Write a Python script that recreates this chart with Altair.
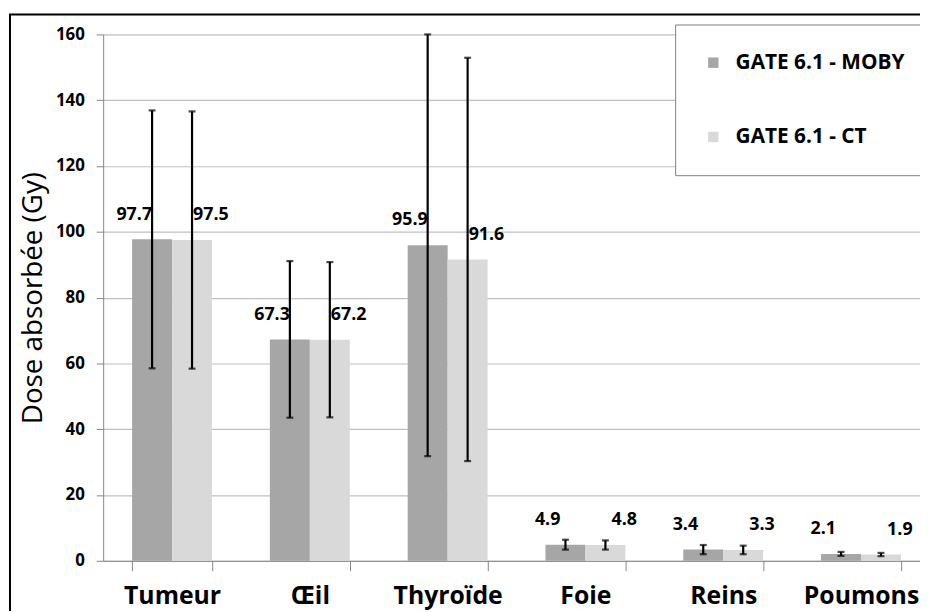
import altair as alt
import pandas as pd

categories = ["Tumeur", "Œil", "Thyroïde", "Foie", "Reins", "Poumons"]
series = ["GATE 6.1 - MOBY", "GATE 6.1 - CT"]
moby_values = [97.7, 67.3, 95.9, 4.9, 3.4, 2.1]
ct_values = [97.5, 67.2, 91.6, 4.8, 3.3, 1.9]
moby_errors = [39.2, 23.8, 64.1, 1.5, 1.4, 0.6]
ct_errors = [39.1, 23.6, 61.3, 1.4, 1.3, 0.5]
colors = ["#a6a6a6", "#d9d9d9"]

rows = []
for s, vals, errs in [(series[0], moby_values, moby_errors), (series[1], ct_values, ct_errors)]:
    for c, v, e in zip(categories, vals, errs):
        rows.append({"organe": c, "serie": s, "dose": v, "lo": v - e, "hi": v + e})
df = pd.DataFrame(rows)

FONT = "Open Sans"
W, H = 834, 531

x = alt.X("organe:N", sort=categories,
          scale=alt.Scale(paddingInner=0.42, paddingOuter=0.21),
          axis=alt.Axis(title=None, labelAngle=0, labelFontSize=25, labelFontWeight="bold",
                        labelFont=FONT, labelColor="black", labelPadding=13,
                        tickBand="extent", tickSize=10, tickColor="#868686",
                        domainColor="#868686", grid=False))
xo = alt.XOffset("serie:N", sort=series, scale=alt.Scale(domain=series))
yscale = alt.Scale(domain=[0, 160], nice=False)

base = alt.Chart(df)

bars = base.mark_bar().encode(
    x=x, xOffset=xo,
    y=alt.Y("dose:Q", scale=yscale,
            axis=alt.Axis(title="Dose absorbée (Gy)", titleFont=FONT, titleFontSize=28,
                          titleFontWeight=500, titleColor="black", titlePadding=8,
                          values=[0, 20, 40, 60, 80, 100, 120, 140, 160],
                          labelFont=FONT, labelFontSize=17, labelFontWeight="bold",
                          labelColor="black", labelPadding=12, tickSize=7,
                          tickColor="#868686", domainColor="#868686",
                          gridColor="#c0c0c0", gridWidth=1.2)),
    color=alt.Color("serie:N", sort=series,
                    scale=alt.Scale(domain=series, range=colors),
                    legend=alt.Legend(title=None, orient="none", legendX=577, legendY=-10,
                                      direction="vertical", symbolType="square",
                                      symbolSize=110, symbolStrokeWidth=0,
                                      labelFont=FONT, labelFontSize=21, labelFontWeight="bold",
                                      labelColor="black", labelOffset=12, rowPadding=53,
                                      labelLimit=400,
                                      padding=28, fillColor="white", strokeColor="#7f7f7f")),
)

rules = base.mark_rule(color="black", strokeWidth=2.2).encode(
    x=x, xOffset=xo, y=alt.Y("lo:Q", scale=yscale), y2="hi:Q")
caps_hi = base.mark_tick(color="black", thickness=2.2, size=7).encode(
    x=x, xOffset=xo, y=alt.Y("hi:Q", scale=yscale))
caps_lo = base.mark_tick(color="black", thickness=2.2, size=7).encode(
    x=x, xOffset=xo, y=alt.Y("lo:Q", scale=yscale))

label_style = dict(font=FONT, fontSize=18, fontWeight="bold", color="black", baseline="middle")
lab_moby = base.transform_filter(alt.datum.serie == series[0]).mark_text(
    dx=-18, dy=-25, **label_style).encode(
    x=x, xOffset=xo, y=alt.Y("dose:Q", scale=yscale), text=alt.Text("dose:Q", format=".1f"))
lab_ct = base.transform_filter(alt.datum.serie == series[1]).mark_text(
    dx=19, dy=-25, **label_style).encode(
    x=x, xOffset=xo, y=alt.Y("dose:Q", scale=yscale), text=alt.Text("dose:Q", format=".1f"))

frame = alt.Chart(pd.DataFrame({"k": [0]})).mark_rect(
    fill="transparent", stroke="black", strokeWidth=2, clip=False).encode(
    x=alt.value(-94), x2=alt.value(W + 60), y=alt.value(-20), y2=alt.value(H + 100))

chart = alt.layer(bars, rules, caps_hi, caps_lo, lab_moby, lab_ct, frame).properties(
    width=W, height=H,
    padding={"left": 96, "top": 24, "right": -10, "bottom": 48},
    autosize=alt.AutoSizeParams(type="none"),
).configure_view(stroke=None)

chart.save("out.html", embed_options={"renderer": "svg", "actions": False})
